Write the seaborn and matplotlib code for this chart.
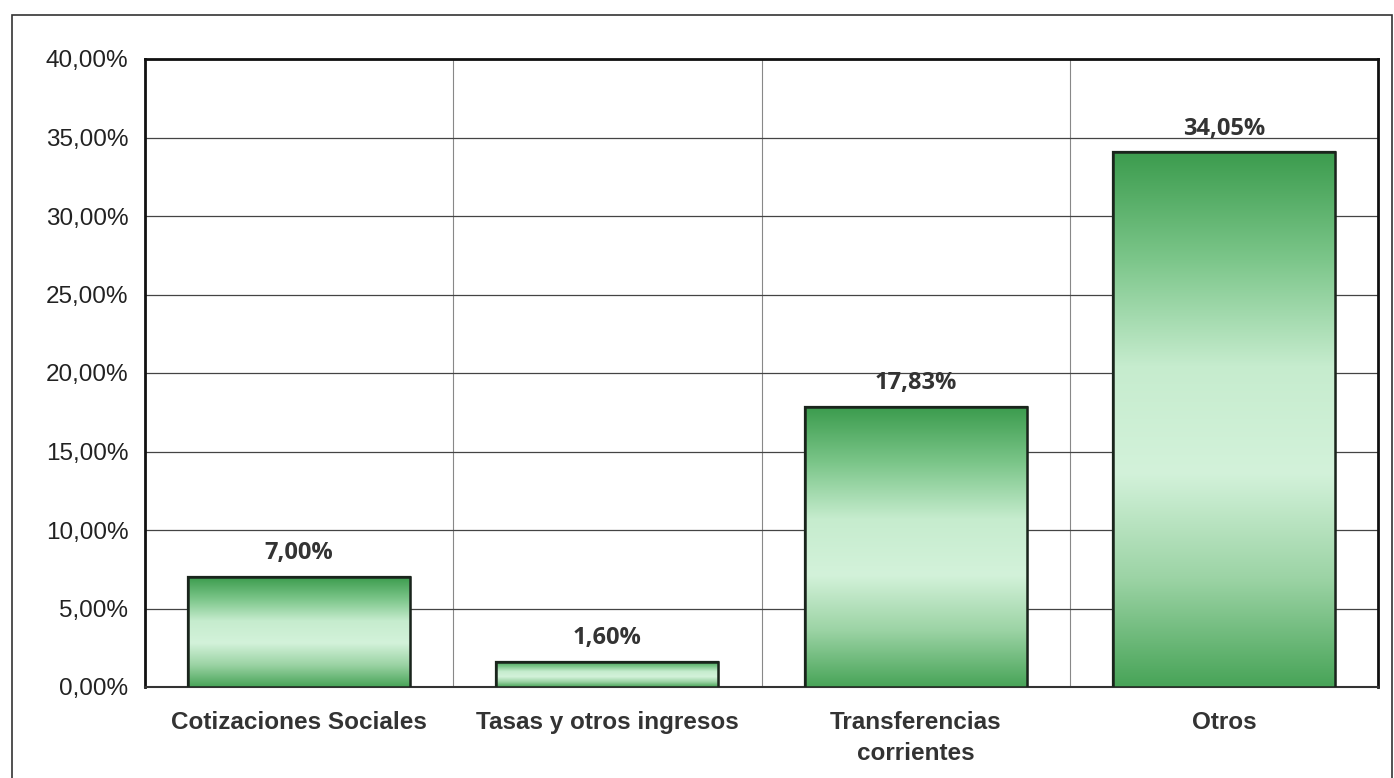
import numpy as np
import pandas as pd
import matplotlib
matplotlib.use("Agg")
import matplotlib.pyplot as plt
from matplotlib.colors import LinearSegmentedColormap
from matplotlib.patches import Rectangle
import seaborn as sns

# data
categorias = ["Cotizaciones Sociales", "Tasas y otros ingresos",
              "Transferencias\ncorrientes", "Otros"]
porcentajes = [7.00, 1.60, 17.83, 34.05]
etiquetas = ["7,00%", "1,60%", "17,83%", "34,05%"]
ticks_y = [0, 5, 10, 15, 20, 25, 30, 35, 40]

df = pd.DataFrame({"cat": categorias, "pct": porcentajes})

sns.set_style("white")
plt.rcParams["font.family"] = ["Liberation Sans", "DejaVu Sans"]

fig = plt.figure(figsize=(13.94, 7.78), dpi=100)
ax = fig.add_axes([145/1394, 1 - 687/778, (1378-145)/1394, (687-59)/778])

sns.barplot(data=df, x="cat", y="pct", color="#5cb86a", width=0.72,
            edgecolor="#1e2a20", linewidth=1.6, ax=ax, zorder=3)

# vertical gradient inside each bar: dark green - pale - dark green
verde = LinearSegmentedColormap.from_list(
    "verde", ["#3c9c4e", "#7cc68a", "#c6ecce", "#d3f2da", "#9bd3a4", "#48a458"])
grad = np.linspace(0, 1, 256).reshape(-1, 1)
for p in ax.patches:
    x0, w, h = p.get_x(), p.get_width(), p.get_height()
    im = ax.imshow(grad, cmap=verde, aspect="auto", origin="upper",
                   extent=[x0, x0 + w, 0, h], zorder=3.5)
    im.set_clip_path(p)
    ax.add_patch(Rectangle((x0, 0), w, h, fill=False, edgecolor="#1a241c",
                           linewidth=1.8, zorder=4))

for i, (v, t) in enumerate(zip(porcentajes, etiquetas)):
    ax.text(i, v + 0.75, t, ha="center", va="bottom", fontsize=17,
            fontweight="bold", color="#333333", family=["Open Sans", "DejaVu Sans"])

ax.set_xlim(-0.5, 3.5)
ax.set_ylim(0, 40)
ax.set_yticks(ticks_y)
ax.set_yticklabels([f"{t},00%" for t in ticks_y], fontsize=17.5, color="#222222")
ax.set_xticks(range(len(categorias)))
ax.set_xticklabels(categorias, fontsize=17.5, fontweight="bold", color="#333333",
                   linespacing=1.45)
ax.set_xticks(np.arange(-0.5, 4.0, 1.0), minor=True)
ax.tick_params(axis="x", which="major", length=0, pad=17)
ax.tick_params(axis="x", which="minor", length=6, color="#555555", width=1)
ax.tick_params(axis="y", length=6, color="#333333", width=1, pad=6)
ax.set_xlabel("")
ax.set_ylabel("")

ax.grid(axis="y", color="#444444", linewidth=0.9, zorder=0)
ax.grid(axis="x", which="minor", color="#888888", linewidth=0.8, zorder=0)
ax.set_axisbelow(True)

for s in ["left", "top", "right"]:
    ax.spines[s].set_visible(True)
    ax.spines[s].set_color("#111111")
    ax.spines[s].set_linewidth(2)
ax.spines["bottom"].set_color("#333333")
ax.spines["bottom"].set_linewidth(1.5)

# outer frame of the original chart area
fig.add_artist(Rectangle((12/1394, -0.01), (1392-12)/1394, 1 - 15/778 + 0.01,
                         transform=fig.transFigure, fill=False,
                         edgecolor="#333333", linewidth=1.2))

fig.savefig("out.png", dpi=100)
